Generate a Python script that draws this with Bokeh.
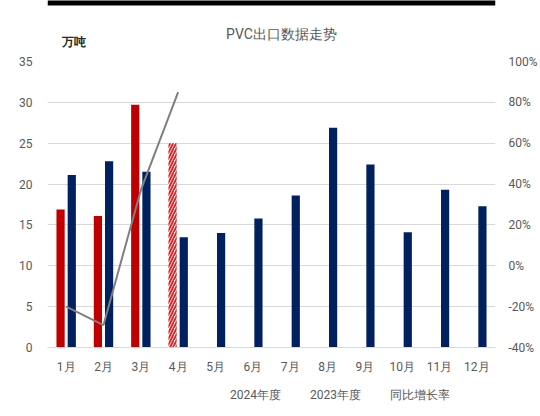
from bokeh.plotting import figure
from bokeh.layouts import column
from bokeh.models import (ColumnDataSource, FactorRange, Range1d, LinearAxis, FixedTicker,
                          NumeralTickFormatter, Legend, LegendItem, Label, Span)
from bokeh.transform import dodge
from bokeh.embed import file_html
from bokeh.resources import INLINE

months = ["1月", "2月", "3月", "4月", "5月", "6月", "7月", "8月", "9月", "10月", "11月", "12月"]
v2024_months = ["1月", "2月", "3月"]
v2024 = [16.9, 16.1, 29.7]
est2024_months = ["4月"]
est2024 = [25.0]
v2023 = [21.1, 22.8, 21.5, 13.5, 14.0, 15.8, 18.6, 26.9, 22.4, 14.1, 19.3, 17.3]
yoy_months = ["1月", "2月", "3月", "4月"]
yoy = [-0.20, -0.29, 0.37, 0.85]
left_ticks = [0, 5, 10, 15, 20, 25, 30, 35]
right_ticks = [-0.4, -0.2, 0.0, 0.2, 0.4, 0.6, 0.8, 1.0]

FONT = "Roboto"
GRAY = "#595959"
RED = "#C00000"
BLUE = "#002060"
LINE = "#7F7F7F"
W = 540

# ---------- header (title + unit) ----------
TOP_H = 52
top = figure(width=W, height=TOP_H, x_range=Range1d(0, W), y_range=Range1d(0, TOP_H),
             output_backend="svg", toolbar_location=None, min_border=0,
             x_axis_location=None, y_axis_location=None)
top.grid.visible = False
top.outline_line_color = None
top.add_layout(Span(location=TOP_H, dimension="width", line_color="black", line_width=10))
top.add_layout(Label(x=282, y=19, text="PVC出口数据走势", text_font=FONT, text_font_size="14px",
                     text_color=GRAY, text_align="center", text_baseline="middle"))
top.add_layout(Label(x=18, y=11, text="万吨", text_font=FONT, text_font_size="12px",
                     text_font_style="bold", text_color="#262626", text_align="left",
                     text_baseline="middle"))

# ---------- main chart ----------
p = figure(width=W, height=326, x_range=FactorRange(*months), y_range=Range1d(0, 35),
           output_backend="svg", toolbar_location=None,
           min_border_left=47, min_border_right=32, min_border_top=9, min_border_bottom=31)
p.outline_line_color = None
p.extra_y_ranges = {"yoy": Range1d(-0.4, 1.0)}

src23 = ColumnDataSource(dict(m=months, v=v2023))
src24 = ColumnDataSource(dict(m=v2024_months, v=v2024))
srcest = ColumnDataSource(dict(m=est2024_months, v=est2024))
srcyoy = ColumnDataSource(dict(m=yoy_months, v=yoy))

p.vbar(x=dodge("m", -0.15, range=p.x_range), top="v", width=0.22, bottom=0,
       source=src24, fill_color=RED, line_color=None)
p.vbar(x=dodge("m", -0.15, range=p.x_range), top="v", width=0.22, bottom=0,
       source=srcest, fill_color="white", line_color=None,
       hatch_pattern="/", hatch_color="#E0262A", hatch_weight=2, hatch_scale=6)
p.vbar(x=dodge("m", 0.15, range=p.x_range), top="v", width=0.22, bottom=0,
       source=src23, fill_color=BLUE, line_color=None)
p.line(x="m", y="v", source=srcyoy, y_range_name="yoy", line_color=LINE, line_width=2)

p.yaxis.ticker = FixedTicker(ticks=left_ticks)
p.xaxis.major_tick_line_color = None
p.yaxis.major_tick_line_color = None
p.yaxis.minor_tick_line_color = None
p.yaxis.axis_line_color = None
p.xaxis.axis_line_color = "#D9D9D9"
for ax in (p.xaxis, p.yaxis):
    ax.major_label_text_font = FONT
    ax.major_label_text_font_size = "12px"
    ax.major_label_text_color = GRAY
p.yaxis.major_label_standoff = 9
p.xaxis.major_label_standoff = 6

ra = LinearAxis(y_range_name="yoy", ticker=FixedTicker(ticks=right_ticks),
                formatter=NumeralTickFormatter(format="0%"))
ra.axis_line_color = None
ra.major_tick_line_color = None
ra.minor_tick_line_color = None
ra.major_label_text_font = FONT
ra.major_label_text_font_size = "12px"
ra.major_label_text_color = GRAY
ra.major_label_standoff = 7
p.add_layout(ra, "right")

p.xgrid.grid_line_color = None
p.ygrid.grid_line_color = "#D9D9D9"
p.ygrid.grid_line_width = 1

# ---------- legend strip ----------
LEG_H = 38
lf = figure(width=W, height=LEG_H, x_range=Range1d(0, W), y_range=Range1d(0, LEG_H),
            output_backend="svg", toolbar_location=None, min_border=0,
            x_axis_location=None, y_axis_location=None)
lf.grid.visible = False
lf.outline_line_color = None
g24 = lf.vbar(x=[], top=[], width=1, fill_color=RED, line_color=None)
g23 = lf.vbar(x=[], top=[], width=1, fill_color=BLUE, line_color=None)
gl = lf.line(x=[], y=[], line_color=LINE, line_width=2)
legend = Legend(items=[LegendItem(label="2024年度", renderers=[g24]),
                       LegendItem(label="2023年度", renderers=[g23]),
                       LegendItem(label="同比增长率", renderers=[gl])],
                orientation="horizontal", location=(166, 12),
                label_text_font=FONT, label_text_font_size="12px", label_text_color=GRAY,
                glyph_width=16, glyph_height=9, label_height=14, label_standoff=1, spacing=12,
                border_line_color=None, background_fill_alpha=0, padding=0, margin=0)
lf.add_layout(legend)

layout = column(top, p, lf, spacing=0)
open("out.html", "w").write(file_html(layout, INLINE))
